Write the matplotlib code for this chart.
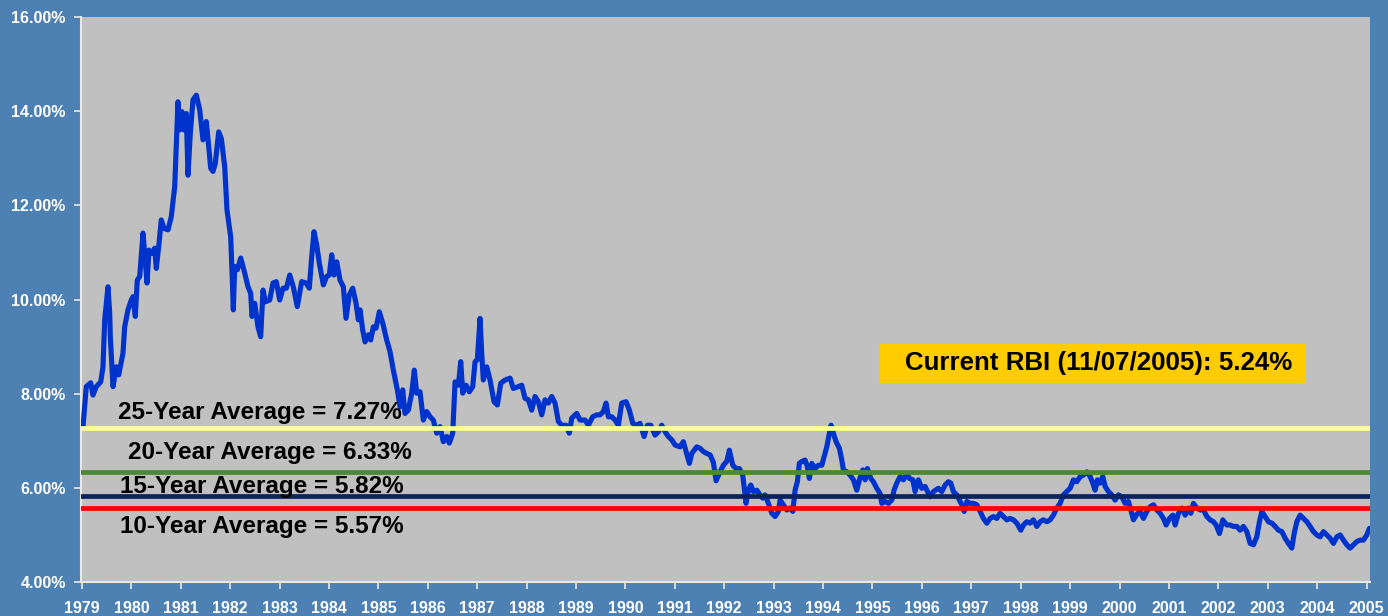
import matplotlib
matplotlib.use("Agg")
import matplotlib.pyplot as plt
from matplotlib.patches import Rectangle
from matplotlib.ticker import FuncFormatter, MultipleLocator

# ---- data: decimal year, yield (%) ----
dates = [
    1979.02, 1979.087, 1979.176, 1979.223, 1979.289, 1979.379, 1979.425, 1979.46, 1979.526, 1979.561,
    1979.573, 1979.628, 1979.694, 1979.743, 1979.83, 1979.864, 1979.931, 1979.998, 1980.032, 1980.079,
    1980.119, 1980.168, 1980.235, 1980.269, 1980.316, 1980.356, 1980.417, 1980.472, 1980.504, 1980.559,
    1980.605, 1980.66, 1980.741, 1980.808, 1980.877, 1980.909, 1980.943, 1980.978, 1981.024, 1981.065,
    1981.111, 1981.146, 1981.192, 1981.247, 1981.314, 1981.383, 1981.449, 1981.516, 1981.565, 1981.605,
    1981.652, 1981.698, 1981.767, 1981.82, 1981.889, 1981.935, 1982.01, 1982.043, 1982.063, 1982.091,
    1982.144, 1982.213, 1982.294, 1982.36, 1982.415, 1982.441, 1982.496, 1982.563, 1982.617, 1982.664,
    1982.711, 1982.8, 1982.866, 1982.933, 1983.002, 1983.069, 1983.136, 1983.205,
    1983.277, 1983.358, 1983.447, 1983.534, 1983.601, 1983.65, 1983.696, 1983.751, 1983.804, 1983.885,
    1983.953, 1984.006, 1984.055, 1984.101, 1984.156, 1984.223, 1984.29, 1984.344, 1984.411, 1984.48,
    1984.547, 1984.593, 1984.628, 1984.682, 1984.729, 1984.796, 1984.844, 1984.897, 1984.951, 1985.018,
    1985.087, 1985.168, 1985.235, 1985.302, 1985.383, 1985.437, 1985.492, 1985.538, 1985.605, 1985.674,
    1985.726, 1985.775, 1985.842, 1985.909, 1985.978, 1986.045, 1986.111, 1986.18, 1986.247, 1986.314,
    1986.383, 1986.435, 1986.504, 1986.551, 1986.618, 1986.666, 1986.707, 1986.773, 1986.84, 1986.909,
    1986.956, 1987.002, 1987.057, 1987.091, 1987.123, 1987.192, 1987.259, 1987.34, 1987.407, 1987.476,
    1987.563, 1987.664,
    1987.731, 1987.832, 1987.901, 1987.968, 1988.035, 1988.103, 1988.17, 1988.237, 1988.306, 1988.373,
    1988.439, 1988.508, 1988.575, 1988.642, 1988.711, 1988.798, 1988.864, 1988.913, 1989.014, 1989.081,
    1989.182, 1989.249, 1989.338, 1989.419, 1989.486, 1989.553, 1989.607, 1989.654, 1989.723, 1989.79,
    1989.856, 1989.925, 1990.012, 1990.079, 1990.148, 1990.229, 1990.296, 1990.377, 1990.444, 1990.512,
    1990.599, 1990.666, 1990.735, 1990.802, 1990.869, 1990.937, 1991.004, 1991.105, 1991.172, 1991.227,
    1991.294, 1991.342, 1991.443, 1991.51, 1991.577, 1991.646, 1991.713, 1991.78, 1991.834, 1991.915,
    1991.982, 1992.05, 1992.103, 1992.172, 1992.239, 1992.306, 1992.374, 1992.441, 1992.488, 1992.536,
    1992.589, 1992.658, 1992.725, 1992.779, 1992.826, 1992.893, 1992.962, 1993.028, 1993.095, 1993.13,
    1993.196, 1993.265, 1993.332, 1993.387, 1993.433, 1993.48, 1993.52, 1993.569, 1993.636, 1993.682,
    1993.723, 1993.771, 1993.838, 1993.905, 1993.974, 1994.02, 1994.075, 1994.128, 1994.162, 1994.209,
    1994.263, 1994.33, 1994.379, 1994.411, 1994.48, 1994.547, 1994.614, 1994.682, 1994.735, 1994.804,
    1994.85, 1994.897, 1994.966, 1995.018, 1995.087, 1995.154, 1995.188, 1995.255, 1995.322, 1995.391,
    1995.437, 1995.492, 1995.559, 1995.626, 1995.694, 1995.747, 1995.816, 1995.862, 1995.929, 1995.998,
    1996.065, 1996.132, 1996.166, 1996.233, 1996.334, 1996.403, 1996.47, 1996.537, 1996.585, 1996.638,
    1996.707, 1996.76, 1996.809, 1996.856, 1996.909, 1996.976, 1997.043, 1997.112, 1997.178, 1997.245,
    1997.314, 1997.381, 1997.448, 1997.516, 1997.583, 1997.65, 1997.719, 1997.785, 1997.852, 1997.921,
    1998.002, 1998.055, 1998.123, 1998.19, 1998.257, 1998.326, 1998.393, 1998.46, 1998.528, 1998.595,
    1998.662, 1998.731, 1998.798, 1998.864, 1998.933, 1999.0, 1999.067, 1999.136, 1999.203, 1999.27,
    1999.339, 1999.405, 1999.46, 1999.506, 1999.553, 1999.607, 1999.662, 1999.709, 1999.776, 1999.844,
    1999.911, 1999.978, 2000.047, 2000.113, 2000.18, 2000.229, 2000.282, 2000.351, 2000.418, 2000.485,
    2000.553, 2000.62, 2000.687, 2000.756, 2000.822, 2000.889, 2000.944, 2001.011, 2001.08, 2001.126,
    2001.193, 2001.262, 2001.328, 2001.395, 2001.444, 2001.496, 2001.565, 2001.632, 2001.699, 2001.768,
    2001.834, 2001.901, 2001.956, 2002.023, 2002.091, 2002.172, 2002.239, 2002.306, 2002.374, 2002.441,
    2002.508, 2002.577, 2002.644, 2002.711, 2002.779, 2002.832, 2002.881, 2002.947, 2003.014, 2003.083,
    2003.15, 2003.217, 2003.286, 2003.352, 2003.419, 2003.488, 2003.535, 2003.589, 2003.656, 2003.723,
    2003.792, 2003.858, 2003.925, 2003.994, 2004.061, 2004.128, 2004.196, 2004.263, 2004.33, 2004.399,
    2004.466, 2004.533, 2004.601, 2004.668, 2004.735, 2004.804, 2004.871, 2004.937, 2005.006, 2005.059,
]
yields = [
    7.29, 8.15, 8.23, 7.97, 8.15, 8.25, 8.57, 9.57, 10.27, 9.71,
    9.21, 8.15, 8.57, 8.40, 8.86, 9.42, 9.78, 9.99, 10.06, 9.64,
    10.41, 10.49, 11.41, 10.98, 10.35, 11.05, 10.98, 11.09, 10.66, 11.19,
    11.69, 11.51, 11.48, 11.76, 12.40, 13.25, 14.20, 13.60, 13.99, 13.60,
    13.95, 12.64, 13.53, 14.24, 14.34, 14.03, 13.39, 13.78, 13.25, 12.79,
    12.72, 12.89, 13.56, 13.42, 12.82, 11.90, 11.33, 10.41, 9.78, 10.70,
    10.63, 10.88, 10.56, 10.27, 10.13, 9.64, 9.92, 9.42, 9.21, 10.20,
    9.95, 9.99, 10.35, 10.38, 9.99, 10.24, 10.24, 10.52,
    10.27, 9.85, 10.38, 10.35, 10.24, 10.91, 11.44, 11.16, 10.77, 10.31,
    10.49, 10.52, 10.95, 10.52, 10.80, 10.41, 10.27, 9.60, 10.10, 10.24,
    9.92, 9.57, 9.78, 9.35, 9.10, 9.25, 9.14, 9.42, 9.39, 9.74,
    9.50, 9.14, 8.89, 8.50, 8.08, 7.72, 8.08, 7.58, 7.65, 8.01,
    8.50, 8.01, 8.04, 7.44, 7.62, 7.51, 7.44, 7.16, 7.30, 6.98,
    7.09, 6.95, 7.16, 8.25, 8.18, 8.68, 8.01, 8.18, 8.04, 8.15,
    8.68, 8.72, 9.60, 8.86, 8.29, 8.57, 8.29, 7.83, 7.76, 8.22,
    8.29, 8.33,
    8.11, 8.15, 8.18, 7.90, 7.87, 7.65, 7.94, 7.83, 7.55, 7.87,
    7.80, 7.94, 7.80, 7.41, 7.33, 7.33, 7.16, 7.48, 7.58, 7.44,
    7.44, 7.33, 7.51, 7.55, 7.55, 7.62, 7.80, 7.51, 7.51, 7.44,
    7.33, 7.80, 7.83, 7.65, 7.37, 7.33, 7.37, 7.09, 7.33, 7.33,
    7.12, 7.19, 7.33, 7.19, 7.09, 7.02, 6.91, 6.87, 6.98, 6.77,
    6.52, 6.73, 6.87, 6.84, 6.77, 6.73, 6.70, 6.54, 6.15, 6.34,
    6.48, 6.56, 6.80, 6.48, 6.41, 6.41, 6.27, 5.67, 5.95, 6.06,
    5.92, 5.95, 5.85, 5.78, 5.85, 5.67, 5.46, 5.39, 5.50, 5.74,
    5.64, 5.53, 5.57, 5.50, 5.95, 6.13, 6.52, 6.56, 6.59, 6.45,
    6.20, 6.52, 6.41, 6.48, 6.48, 6.66, 6.87, 7.16, 7.33, 7.16,
    6.98, 6.84, 6.59, 6.38, 6.34, 6.27, 6.17, 5.95, 6.17, 6.38,
    6.17, 6.41, 6.20, 6.13, 5.99, 5.88, 5.67, 5.71, 5.67, 5.74,
    5.95, 6.10, 6.24, 6.17, 6.31, 6.20, 6.17, 5.92, 6.17, 5.99,
    6.03, 5.88, 5.81, 5.92, 5.99, 5.92, 6.06, 6.13, 6.10, 5.92,
    5.85, 5.74, 5.64, 5.50, 5.71, 5.67, 5.67, 5.64, 5.50, 5.35,
    5.25, 5.35, 5.39, 5.35, 5.46, 5.39, 5.32, 5.35, 5.32, 5.25,
    5.10, 5.21, 5.28, 5.25, 5.32, 5.18, 5.28, 5.32, 5.28, 5.32,
    5.42, 5.57, 5.67, 5.85, 5.92, 5.99, 6.17, 6.13, 6.24, 6.27,
    6.34, 6.24, 6.10, 5.95, 6.17, 6.10, 6.24, 6.03, 5.92, 5.85,
    5.74, 5.85, 5.81, 5.67, 5.71, 5.53, 5.32, 5.44, 5.50, 5.35,
    5.50, 5.60, 5.64, 5.53, 5.46, 5.35, 5.21, 5.35, 5.42, 5.21,
    5.46, 5.57, 5.42, 5.57, 5.46, 5.67, 5.57, 5.53, 5.53, 5.39,
    5.32, 5.28, 5.21, 5.03, 5.32, 5.21, 5.21, 5.18, 5.18, 5.10,
    5.18, 5.07, 4.82, 4.79, 4.96, 5.28, 5.50, 5.39, 5.28, 5.25,
    5.18, 5.10, 5.07, 4.93, 4.82, 4.72, 5.03, 5.28, 5.42, 5.35,
    5.28, 5.18, 5.07, 5.00, 4.96, 5.07, 5.00, 4.93, 4.82, 4.96,
    5.00, 4.89, 4.79, 4.72, 4.79, 4.86, 4.89, 4.89, 5.00, 5.14,
]

avg_labels = ["25-Year Average = 7.27%", "20-Year Average = 6.33%",
              "15-Year Average = 5.82%", "10-Year Average = 5.57%"]
avg_values = [7.27, 6.33, 5.82, 5.57]
avg_colors = ["#FFFF99", "#4A8A34", "#0B2260", "#FF0000"]
avg_text_x = [1982.60, 1982.81, 1982.64, 1982.64]
avg_text_y = [7.59, 6.74, 6.02, 5.17]

year_ticks = list(range(1979, 2006))
current_label = "Current RBI (11/07/2005): 5.24%"

BG = "#4D80B3"
PLOT_BG = "#C0C0C0"
FONT = "Liberation Sans"

fig = plt.figure(figsize=(13.88, 6.16), dpi=100, facecolor=BG)
ax = fig.add_axes([81 / 1388, 34 / 616, (1370 - 81) / 1388, (582 - 17) / 616])
ax.set_facecolor(PLOT_BG)

ax.plot(dates, yields, color="#0033CC", lw=3.7, solid_joinstyle="round",
        solid_capstyle="round", zorder=3)

for v, c in zip(avg_values, avg_colors):
    ax.axhline(v, color=c, lw=3.4, zorder=4)

for t, x, y in zip(avg_labels, avg_text_x, avg_text_y):
    ax.text(x, y, t, ha="center", va="center", fontsize=17.5,
            fontweight="bold", family=FONT, color="black", zorder=5)

ax.add_patch(Rectangle((1995.13, 8.23), 2003.78 - 1995.13, 9.06 - 8.23,
                       facecolor="#FFCC00", edgecolor="none", zorder=5))
ax.text(1995.66, 8.645, current_label, ha="left", va="center", fontsize=18.6,
        fontweight="bold", family=FONT, color="black", zorder=6)

ax.set_xlim(1978.98, 2005.07)
ax.set_ylim(4, 16)
ax.set_xticks(year_ticks)
ax.set_xticklabels([str(y) for y in year_ticks])
ax.yaxis.set_major_locator(MultipleLocator(2))
ax.yaxis.set_major_formatter(FuncFormatter(lambda v, p: f"{v:.2f}%"))

for s in ["top", "right"]:
    ax.spines[s].set_visible(False)
for s in ["left", "bottom"]:
    ax.spines[s].set_color("#E8E8E8")
    ax.spines[s].set_linewidth(1.5)

ax.tick_params(axis="both", colors="#E8E8E8", direction="out", length=5, width=1.2)
ax.tick_params(axis="y", pad=6)
ax.tick_params(axis="x", pad=9)
for lbl in ax.get_xticklabels() + ax.get_yticklabels():
    lbl.set_color("white")
    lbl.set_fontweight("bold")
    lbl.set_family(FONT)
    lbl.set_fontsize(11.5)

fig.savefig("out.png", dpi=100, facecolor=BG)
